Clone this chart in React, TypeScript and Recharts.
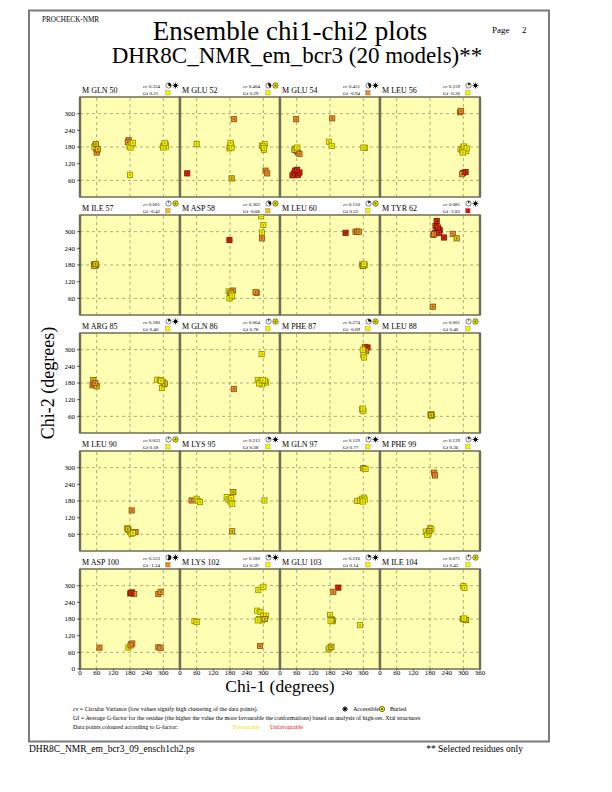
import { ReferenceArea, ReferenceLine, Scatter, ScatterChart, XAxis, YAxis } from "recharts";

type Pt = [number, number, string];

const residues = [
  "GLN 50", "GLU 52", "GLU 54", "LEU 56",
  "ILE 57", "ASP 58", "LEU 60", "TYR 62",
  "ARG 85", "GLN 86", "PHE 87", "LEU 88",
  "LEU 90", "LYS 95", "GLN 97", "PHE 99",
  "ASP 100", "LYS 102", "GLU 103", "ILE 104",
];
const cvValues = [
  0.334, 0.404, 0.451, 0.159,
  0.001, 0.362, 0.15, 0.081,
  0.18, 0.064, 0.274, 0.001,
  0.023, 0.213, 0.119, 0.139,
  0.553, 0.18, 0.216, 0.071,
];
const gfValues = [
  0.21, 0.29, -0.94, -0.26,
  -0.42, -0.66, 0.22, -2.83,
  0.4, 0.78, -0.09, 0.46,
  0.18, 0.38, 0.77, 0.36,
  -1.24, 0.59, 0.14, 0.45,
];
const accessible = [
  true, false, true, true,
  false, false, false, true,
  true, false, false, false,
  false, true, true, true,
  true, true, true, false,
];

// chi1, chi2, colour class (y favourable ... r unfavourable)
const gln50: Pt[] = [
  [55, 185, "o"], [58, 175, "a"], [62, 168, "o"], [60, 160, "o"], [52, 180, "y"], [57, 190, "a"], [64, 172, "a"],
  [175, 205, "o"], [172, 198, "o"], [178, 182, "y"], [185, 190, "y"], [182, 178, "y"], [190, 195, "y"], [180, 80, "y"],
  [298, 182, "y"], [303, 186, "y"], [308, 190, "y"], [310, 182, "y"], [300, 178, "y"], [305, 195, "y"],
];
const glu52: Pt[] = [
  [60, 191, "y"], [26, 85, "r"], [194, 280, "o"], [178, 175, "y"], [183, 190, "y"], [180, 182, "y"], [186, 178, "y"],
  [182, 195, "y"], [186, 67, "a"], [295, 185, "y"], [300, 178, "y"], [305, 190, "y"], [302, 170, "y"], [298, 182, "y"],
  [303, 176, "y"], [308, 95, "o"], [314, 85, "o"],
];
const glu54: Pt[] = [
  [58, 280, "o"], [188, 283, "o"], [176, 199, "y"], [186, 184, "y"], [55, 175, "y"], [60, 165, "o"], [65, 160, "o"],
  [70, 155, "o"], [52, 170, "a"], [62, 178, "y"], [306, 177, "y"], [300, 178, "y"], [50, 85, "r"], [60, 90, "r"],
  [65, 80, "r"], [55, 95, "r"], [70, 88, "r"], [45, 78, "r"], [62, 98, "r"],
];
const leu56: Pt[] = [
  [288, 305, "o"], [292, 310, "o"], [290, 172, "y"], [300, 178, "y"], [305, 170, "y"], [310, 165, "y"], [295, 168, "y"],
  [302, 182, "y"], [312, 175, "y"], [298, 160, "y"], [300, 87, "r"], [295, 82, "o"], [308, 90, "r"],
];
const ile57: Pt[] = [[50, 182, "a"], [55, 178, "o"], [58, 180, "a"], [52, 176, "a"], [56, 184, "a"]];
const asp58: Pt[] = [
  [292, 355, "y"], [300, 324, "y"], [295, 297, "y"], [295, 276, "o"], [178, 270, "r"], [175, 85, "y"], [180, 75, "y"],
  [185, 65, "y"], [178, 60, "y"], [190, 88, "o"], [183, 80, "a"], [188, 70, "y"], [276, 80, "o"], [272, 82, "o"],
];
const leu60: Pt[] = [
  [236, 296, "r"], [272, 300, "o"], [278, 300, "o"], [284, 300, "o"], [295, 182, "y"], [300, 178, "y"], [305, 180, "y"],
  [298, 176, "a"], [302, 184, "y"],
];
const tyr62: Pt[] = [
  [204, 338, "r"], [200, 320, "r"], [210, 310, "r"], [205, 300, "r"], [215, 305, "r"], [198, 295, "r"], [192, 288, "o"],
  [195, 292, "o"], [230, 279, "r"], [262, 292, "o"], [276, 276, "a"], [190, 30, "o"], [208, 315, "r"], [212, 296, "r"],
];
const arg85: Pt[] = [
  [48, 191, "a"], [45, 172, "o"], [52, 175, "o"], [60, 168, "a"], [55, 180, "o"], [278, 192, "y"], [288, 190, "y"],
  [298, 185, "y"], [302, 175, "y"], [295, 162, "y"], [305, 178, "a"], [292, 188, "y"],
];
const gln86: Pt[] = [
  [294, 284, "y"], [194, 158, "o"], [280, 190, "y"], [290, 185, "y"], [300, 180, "y"], [310, 182, "y"], [295, 175, "y"],
  [305, 188, "y"], [285, 178, "y"], [298, 190, "y"],
];
const phe87: Pt[] = [
  [305, 310, "o"], [315, 308, "r"], [310, 295, "o"], [300, 280, "y"], [303, 272, "y"], [298, 300, "y"], [295, 85, "y"],
  [300, 80, "y"], [298, 88, "y"],
];
const leu88: Pt[] = [[182, 65, "a"], [186, 62, "y"], [185, 68, "y"], [184, 64, "a"]];
const leu90: Pt[] = [
  [186, 146, "o"], [170, 82, "y"], [175, 75, "y"], [180, 68, "y"], [185, 62, "y"], [200, 68, "o"], [190, 65, "y"],
  [172, 78, "a"],
];
const lys95: Pt[] = [
  [42, 182, "o"], [60, 188, "y"], [66, 180, "y"], [72, 176, "y"], [192, 212, "a"], [168, 194, "y"], [175, 185, "y"],
  [182, 178, "y"], [188, 170, "y"], [185, 190, "y"], [188, 71, "a"], [304, 182, "y"],
];
const gln97: Pt[] = [
  [300, 298, "a"], [308, 295, "y"], [278, 180, "y"], [288, 182, "y"], [295, 188, "y"], [302, 192, "y"], [305, 185, "y"],
  [298, 178, "y"],
];
const phe99: Pt[] = [
  [195, 282, "o"], [198, 272, "o"], [165, 70, "y"], [175, 62, "y"], [180, 82, "y"], [185, 78, "y"], [170, 58, "y"],
  [178, 72, "a"],
];
const asp100: Pt[] = [
  [70, 77, "o"], [180, 272, "o"], [188, 276, "o"], [195, 270, "o"], [184, 274, "r"], [282, 270, "o"], [290, 278, "o"],
  [174, 77, "y"], [185, 90, "o"], [188, 92, "o"], [182, 85, "o"], [282, 78, "o"], [290, 76, "o"],
];
const lys102: Pt[] = [
  [282, 284, "y"], [300, 296, "y"], [52, 173, "y"], [60, 169, "y"], [278, 210, "y"], [290, 205, "y"], [300, 190, "y"],
  [285, 180, "y"], [310, 192, "y"], [295, 175, "y"], [305, 180, "a"], [280, 175, "y"], [288, 83, "o"],
];
const glu103: Pt[] = [
  [210, 293, "r"], [192, 278, "o"], [180, 195, "y"], [185, 180, "y"], [190, 172, "y"], [188, 176, "a"], [182, 174, "y"],
  [288, 158, "y"], [175, 70, "y"], [178, 75, "y"], [185, 80, "a"],
];
const ile104: Pt[] = [[300, 298, "y"], [304, 292, "y"], [298, 180, "a"], [305, 178, "y"], [310, 176, "a"], [302, 182, "y"]];

const panels = [
  gln50, glu52, glu54, leu56, ile57, asp58, leu60, tyr62, arg85, gln86,
  phe87, leu88, leu90, lys95, gln97, phe99, asp100, lys102, glu103, ile104,
];

const xTicks = [0, 60, 120, 180, 240, 300];
const xTicksLast = [0, 60, 120, 180, 240, 300, 360];
const yTicks = [60, 120, 180, 240, 300];
const yTicksBottom = [0, 60, 120, 180, 240, 300];
const gridValues = [60, 180, 300];

const FONT = "Liberation Serif, Times New Roman, serif";
const FILL: Record<string, string> = { y: "#F6F200", a: "#E8C800", o: "#EA922C", r: "#D8280E" };
const EDGE: Record<string, string> = { y: "#8E8C00", a: "#6E5E00", o: "#8A4A0A", r: "#761000" };
const PANEL_BG = "#FFFFB3";
const PANEL_EDGE = "#6E6E54";

const rowTop = (r: number) => 97 + r * 118;
const colLeft = (c: number) => 80 + c * 100;

function gfColour(g: number) {
  if (g >= -0.3) return "#F6F200";
  if (g >= -0.8) return "#EFC020";
  if (g >= -1.5) return "#E8882A";
  return "#E01010";
}

function Square(props: any) {
  const { cx, cy, payload } = props;
  if (cx == null || cy == null) return null;
  const k = payload.c;
  return (
    <g>
      <rect x={cx - 2.6} y={cy - 2.6} width={5.2} height={5.2} fill={FILL[k]} stroke={EDGE[k]} strokeWidth={0.8} />
      <rect x={cx - 0.7} y={cy - 1.2} width={1.4} height={2.4} fill={EDGE[k]} opacity={0.75} />
    </g>
  );
}

function Panel({ idx }: { idx: number }) {
  const r = Math.floor(idx / 4);
  const c = idx % 4;
  const M = 10;
  const yw = c === 0 ? 26 : 0;
  const xh = r === 4 ? 12 : 0;
  const data = panels[idx].map(([x, y, k]) => ({ x, y, c: k }));
  const tick = { fontSize: 7, fill: "#000", fontFamily: FONT };
  return (
    <div style={{ position: "absolute", left: colLeft(c) - M - yw, top: rowTop(r) - M }}>
      <ScatterChart width={100 + 2 * M + yw} height={100 + 2 * M + xh} margin={{ top: M, right: M, bottom: M, left: M }}>
        <XAxis
          type="number"
          dataKey="x"
          domain={[0, 360]}
          ticks={c === 3 ? xTicksLast : xTicks}
          interval={0}
          hide={r !== 4}
          height={xh}
          axisLine={false}
          tickLine={{ stroke: "#000", strokeWidth: 0.6 }}
          tickSize={1.5}
          tickMargin={0}
          tick={tick}
          allowDataOverflow
        />
        <YAxis
          type="number"
          dataKey="y"
          domain={[0, 360]}
          ticks={r === 4 ? yTicksBottom : yTicks}
          interval={0}
          hide={c !== 0}
          width={yw}
          axisLine={false}
          tickLine={{ stroke: "#000", strokeWidth: 0.6 }}
          tickSize={3}
          tickMargin={2}
          tick={tick}
          allowDataOverflow
        />
        <ReferenceArea x1={0} x2={360} y1={0} y2={360} fill={PANEL_BG} fillOpacity={1} stroke={PANEL_EDGE} strokeWidth={1.6} />
        {gridValues.map((v) => (
          <ReferenceLine key={"gx" + v} x={v} stroke="#8A8A6A" strokeWidth={0.7} strokeDasharray="3 3" />
        ))}
        {gridValues.map((v) => (
          <ReferenceLine key={"gy" + v} y={v} stroke="#8A8A6A" strokeWidth={0.7} strokeDasharray="3 3" />
        ))}
        <ReferenceLine x={0} stroke={PANEL_EDGE} strokeWidth={2.4} />
        <ReferenceLine x={360} stroke={PANEL_EDGE} strokeWidth={2.4} />
        <Scatter data={data} shape={Square} isAnimationActive={false} />
      </ScatterChart>
    </div>
  );
}

function CvIcon({ x, y, cv }: { x: number; y: number; cv: number }) {
  const rr = 2.6;
  const a = cv * 2 * Math.PI;
  const ex = x + rr * Math.sin(a);
  const ey = y - rr * Math.cos(a);
  const large = cv > 0.5 ? 1 : 0;
  return (
    <g>
      <circle cx={x} cy={y} r={rr} fill="#fff" stroke="#000" strokeWidth={0.5} />
      {cv > 0.01 && <path d={`M${x},${y} L${x},${y - rr} A${rr},${rr} 0 ${large} 1 ${ex},${ey} Z`} fill="#000" />}
      <line x1={x} y1={y} x2={x} y2={y - rr} stroke="#000" strokeWidth={0.5} />
    </g>
  );
}

function AccIcon({ x, y, acc }: { x: number; y: number; acc: boolean }) {
  if (!acc) {
    return (
      <g>
        <circle cx={x} cy={y} r={2.7} fill="#F6F200" stroke="#000" strokeWidth={0.5} />
        <circle cx={x} cy={y} r={1.1} fill="#5A5000" />
      </g>
    );
  }
  const spokes = [0, 1, 2, 3, 4, 5, 6, 7].map((i) => {
    const a = (i * Math.PI) / 4;
    return <line key={i} x1={x} y1={y} x2={x + 3 * Math.cos(a)} y2={y + 3 * Math.sin(a)} stroke="#000" strokeWidth={0.7} />;
  });
  return (
    <g>
      {spokes}
      <circle cx={x} cy={y} r={1.7} fill="#000" />
    </g>
  );
}

function Header({ idx }: { idx: number }) {
  const r = Math.floor(idx / 4);
  const c = idx % 4;
  const T = rowTop(r);
  const L = colLeft(c);
  return (
    <g>
      <text x={L + 2} y={T - 4} fontSize={8}>M {residues[idx]}</text>
      <text x={L + 63} y={T - 9} fontSize={5}>
        <tspan fontStyle="italic">cv</tspan> {cvValues[idx].toFixed(3)}
      </text>
      <text x={L + 63} y={T - 2.5} fontSize={5}>Gf {gfValues[idx].toFixed(2)}</text>
      <CvIcon x={L + 88.5} y={T - 11.5} cv={cvValues[idx]} />
      <AccIcon x={L + 95.5} y={T - 11.5} acc={accessible[idx]} />
      <rect x={L + 85.5} y={T - 6.6} width={4.6} height={4.6} fill={gfColour(gfValues[idx])} stroke="#7a7a40" strokeWidth={0.3} />
    </g>
  );
}

export default function App() {
  return (
    <div style={{ position: "absolute", left: 0, top: 0, width: 612, height: 792, background: "#fff", fontFamily: FONT }}>
      <svg width={612} height={792} style={{ position: "absolute", left: 0, top: 0, fontFamily: FONT }}>
        <rect x={29} y={10.5} width={520} height={731} fill="none" stroke="#7A7A7A" strokeWidth={2} />
        <text x={42} y={22} fontSize={7.2}>PROCHECK-NMR</text>
        <text x={290} y={40} fontSize={27} textAnchor="middle">Ensemble chi1-chi2 plots</text>
        <text x={297} y={63} fontSize={23} textAnchor="middle">DHR8C_NMR_em_bcr3 (20 models)**</text>
        <text x={492} y={33} fontSize={9}>Page</text>
        <text x={522} y={33} fontSize={9}>2</text>
        {residues.map((_, i) => (
          <Header key={i} idx={i} />
        ))}
        <text x={54} y={383} fontSize={18} textAnchor="middle" transform="rotate(-90 54 383)">Chi-2 (degrees)</text>
        <text x={280} y={692} fontSize={17.5} textAnchor="middle">Chi-1 (degrees)</text>
        <text x={73} y={711} fontSize={6}>
          <tspan fontStyle="italic">cv</tspan> = Circular Variance (low values signify high clustering of the data points).
        </text>
        <AccIcon x={345} y={709} acc={true} />
        <text x={353} y={711} fontSize={6}>Accessible</text>
        <AccIcon x={382} y={709} acc={false} />
        <text x={390} y={711} fontSize={6}>Buried</text>
        <text x={73} y={720} fontSize={6}>
          Gf = Average G-factor for the residue (the higher the value the more favourable the conformations) based on analysis of high-res. Xtal structures
        </text>
        <text x={73} y={729} fontSize={6}>Data points coloured according to G-factor:</text>
        <text x={233} y={729} fontSize={6} fill="#E8E000">Favourable</text>
        <text x={270} y={729} fontSize={6} fill="#E01010">Unfavourable</text>
        <text x={29} y={752} fontSize={9.5}>DHR8C_NMR_em_bcr3_09_ensch1ch2.ps</text>
        <text x={523} y={752} fontSize={9.5} textAnchor="end">** Selected residues only</text>
      </svg>
      {residues.map((_, i) => (
        <Panel key={i} idx={i} />
      ))}
    </div>
  );
}
